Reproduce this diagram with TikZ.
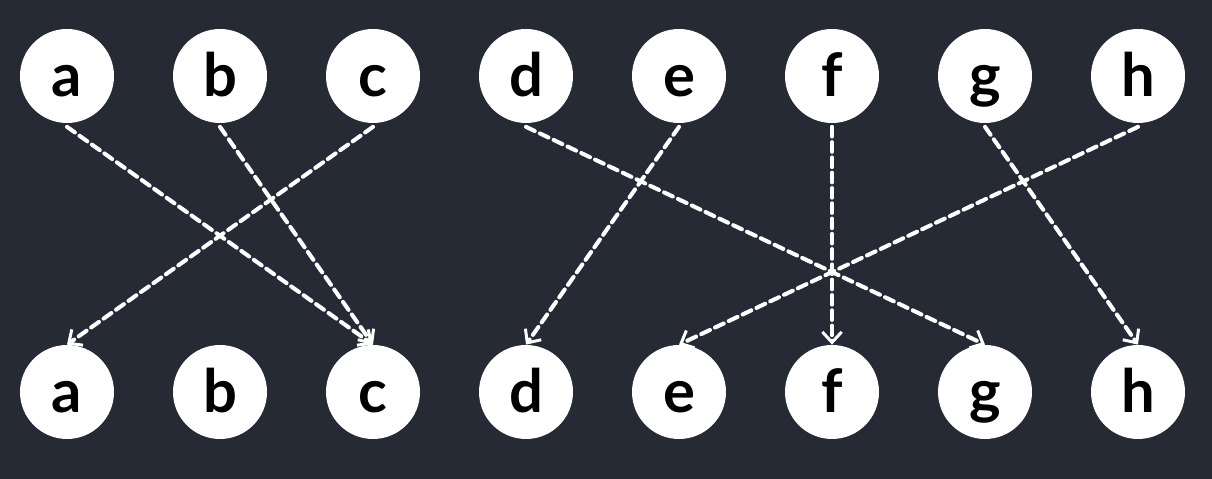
\documentclass[tikz,border=0pt]{standalone}
\usepackage{fontspec}
\setmainfont{Lato}
\usetikzlibrary{arrows.meta}
\definecolor{bgdark}{HTML}{262A35}
\tikzset{
	letter/.style={circle,fill=white,minimum size=1.88cm,inner sep=0pt,text height=0.82cm,text depth=0pt,font=\fontsize{34}{34}\selectfont\bfseries,text=black},
	swap/.style={draw=white,line width=2.3pt,dash pattern=on 5.5pt off 3.2pt,-{Straight Barb[length=6pt,width=11pt,line width=1.7pt]}}
}
\begin{document}
\begin{tikzpicture}[line cap=round,line join=round,x=0.02cm,y=0.02cm]
	\fill[bgdark] (0,0) rectangle (1212,479);
	\useasboundingbox (0,0) rectangle (1212,479);
	% top and bottom rows
	\foreach \l [count=\i from 0] in {a,b,c,d,e,f,g,h}{
		\node[letter] (top\l) at (67+153*\i,403) {\l};
		\node[letter] (bot\l) at (67+153*\i,87) {\l};
	}
	% permutation
	\draw[swap] ([yshift=-2pt]topa.south) -- (botc.north);
	\draw[swap] ([yshift=-2pt]topb.south) -- (botc.north);
	\draw[swap] ([yshift=-2pt]topc.south) -- (bota.north);
	\draw[swap] ([yshift=-2pt]topd.south) -- (botg.north);
	\draw[swap] ([yshift=-2pt]tope.south) -- (botd.north);
	\draw[swap] ([yshift=-2pt]topf.south) -- (botf.north);
	\draw[swap] ([yshift=-2pt]topg.south) -- (both.north);
	\draw[swap] ([yshift=-2pt]toph.south) -- (bote.north);
\end{tikzpicture}
\end{document}
